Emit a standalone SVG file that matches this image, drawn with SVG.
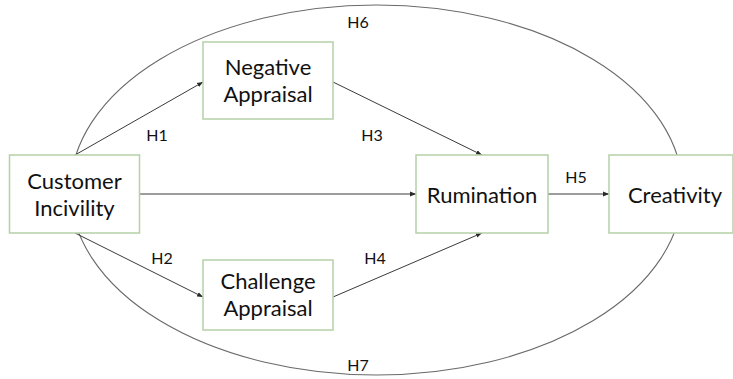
<svg xmlns="http://www.w3.org/2000/svg" width="733" height="379" viewBox="0 0 733 379">
<style>
.box{fill:#fff;stroke:#b5d1a6;stroke-width:1.5}
.t{font-family:Lato,"Open Sans",sans-serif;font-size:22px;fill:#111;text-anchor:middle}
.h{font-family:Lato,"Open Sans",sans-serif;font-size:16px;fill:#111;text-anchor:middle}
.c{stroke:#3a3a3a;stroke-width:1;fill:none;marker-end:url(#a)}
</style>
<defs>
<marker id="a" viewBox="0 0 10 10" refX="10" refY="5" markerWidth="6" markerHeight="6" orient="auto" markerUnits="userSpaceOnUse">
<path d="M0,1 L10,5 L0,9 z" fill="#2a2a2a"/>
</marker>
</defs>
<ellipse cx="376.5" cy="190" rx="306" ry="185" fill="none" stroke="#6a6a6a" stroke-width="1.1"/>
<g id="connectors">
<path class="c" d="M75,155 L203,82"/>
<path class="c" d="M75,233 L203,297"/>
<path class="c" d="M333,82 L482,155"/>
<path class="c" d="M333,297 L482,233"/>
<path class="c" d="M139,194 L416,194"/>
<path class="c" d="M548,194 L609,194"/>
</g>
<g id="labels">
<text class="h" x="157" y="141">H1</text>
<text class="h" x="162" y="264">H2</text>
<text class="h" x="372" y="141">H3</text>
<text class="h" x="375" y="264">H4</text>
<text class="h" x="576" y="183">H5</text>
<text class="h" x="358" y="28">H6</text>
<text class="h" x="358" y="371">H7</text>
</g>
<g id="customer">
<rect class="box" x="9.5" y="155" width="130" height="78"/>
<text class="t" x="74.5" y="189">Customer</text>
<text class="t" x="74.5" y="216">Incivility</text>
</g>
<g id="negative">
<rect class="box" x="203" y="42" width="130" height="77"/>
<text class="t" x="268" y="75">Negative</text>
<text class="t" x="268" y="102">Appraisal</text>
</g>
<g id="challenge">
<rect class="box" x="203" y="260" width="130" height="70"/>
<text class="t" x="268" y="289">Challenge</text>
<text class="t" x="268" y="316">Appraisal</text>
</g>
<g id="rumination">
<rect class="box" x="416" y="155" width="132" height="78"/>
<text class="t" x="482" y="203">Rumination</text>
</g>
<g id="creativity">
<rect class="box" x="609" y="155" width="124" height="78"/>
<text class="t" x="675" y="203">Creativity</text>
</g>
</svg>
